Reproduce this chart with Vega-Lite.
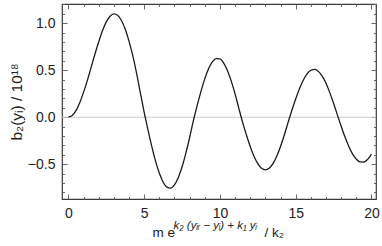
{
  "$schema": "https://vega.github.io/schema/vega-lite/v6.json",
  "width": 314,
  "height": 195,
  "autosize": {"type": "none"},
  "padding": {"left": 62, "top": 4, "right": 6, "bottom": 47},
  "background": "white",
  "config": {
    "view": {"stroke": "#3a3a3a", "strokeWidth": 1.2},
    "axis": {
      "domain": false,
      "grid": false,
      "labelFont": "Liberation Sans",
      "labelFontSize": 14,
      "labelColor": "#222",
      "titleFont": "Liberation Sans",
      "titleFontSize": 14,
      "titleFontWeight": "normal",
      "titleColor": "#222",
      "tickColor": "#666",
      "tickWidth": 1
    }
  },
  "datasets": {
    "zero": [{"y": 0}],
    "curve": [
      {"x": 0, "y": 0}, {"x": 0.25, "y": 0.018}, {"x": 0.5, "y": 0.07}, {"x": 0.75, "y": 0.155},
      {"x": 1.0, "y": 0.265}, {"x": 1.25, "y": 0.39}, {"x": 1.5, "y": 0.53}, {"x": 1.75, "y": 0.67},
      {"x": 2.0, "y": 0.8}, {"x": 2.25, "y": 0.92}, {"x": 2.5, "y": 1.015}, {"x": 2.75, "y": 1.075},
      {"x": 3.0, "y": 1.1}, {"x": 3.25, "y": 1.085}, {"x": 3.5, "y": 1.03}, {"x": 3.75, "y": 0.94},
      {"x": 4.0, "y": 0.81}, {"x": 4.25, "y": 0.655}, {"x": 4.5, "y": 0.47}, {"x": 4.75, "y": 0.26},
      {"x": 5.0, "y": 0.055}, {"x": 5.25, "y": -0.131}, {"x": 5.5, "y": -0.307}, {"x": 5.75, "y": -0.464},
      {"x": 6.0, "y": -0.594}, {"x": 6.25, "y": -0.689}, {"x": 6.5, "y": -0.743}, {"x": 6.75, "y": -0.754},
      {"x": 7.0, "y": -0.72}, {"x": 7.25, "y": -0.644}, {"x": 7.5, "y": -0.53}, {"x": 7.75, "y": -0.384},
      {"x": 8.0, "y": -0.218}, {"x": 8.25, "y": -0.037}, {"x": 8.5, "y": 0.126}, {"x": 8.75, "y": 0.276},
      {"x": 9.0, "y": 0.408}, {"x": 9.25, "y": 0.515}, {"x": 9.5, "y": 0.588}, {"x": 9.75, "y": 0.624},
      {"x": 10.0, "y": 0.62}, {"x": 10.25, "y": 0.576}, {"x": 10.5, "y": 0.496}, {"x": 10.75, "y": 0.384},
      {"x": 11.0, "y": 0.248}, {"x": 11.25, "y": 0.095}, {"x": 11.5, "y": -0.055}, {"x": 11.75, "y": -0.189},
      {"x": 12.0, "y": -0.311}, {"x": 12.25, "y": -0.415}, {"x": 12.5, "y": -0.494}, {"x": 12.75, "y": -0.543},
      {"x": 13.0, "y": -0.56}, {"x": 13.25, "y": -0.543}, {"x": 13.5, "y": -0.494}, {"x": 13.75, "y": -0.415},
      {"x": 14.0, "y": -0.311}, {"x": 14.25, "y": -0.189}, {"x": 14.5, "y": -0.055}, {"x": 14.75, "y": 0.075},
      {"x": 15.0, "y": 0.195}, {"x": 15.25, "y": 0.304}, {"x": 15.5, "y": 0.394}, {"x": 15.75, "y": 0.461},
      {"x": 16.0, "y": 0.5}, {"x": 16.25, "y": 0.509}, {"x": 16.5, "y": 0.488}, {"x": 16.75, "y": 0.437},
      {"x": 17.0, "y": 0.361}, {"x": 17.25, "y": 0.262}, {"x": 17.5, "y": 0.149}, {"x": 17.75, "y": 0.025},
      {"x": 18.0, "y": -0.095}, {"x": 18.25, "y": -0.208}, {"x": 18.5, "y": -0.308}, {"x": 18.75, "y": -0.389},
      {"x": 19.0, "y": -0.446}, {"x": 19.25, "y": -0.476}, {"x": 19.5, "y": -0.477}, {"x": 19.75, "y": -0.448},
      {"x": 20.0, "y": -0.392}
    ]
  },
  "resolve": {"axis": {"x": "independent", "y": "independent"}},
  "layer": [
    {
      "data": {"name": "zero"},
      "mark": {"type": "rule", "color": "#c8c8c8", "strokeWidth": 1},
      "encoding": {
        "y": {"field": "y", "type": "quantitative", "axis": null,
              "scale": {"domain": [-0.87, 1.205], "nice": false, "zero": false}}
      }
    },
    {
      "data": {"name": "curve"},
      "mark": {"type": "line", "color": "#1a1a1a", "strokeWidth": 1.3, "interpolate": "monotone"},
      "encoding": {
        "x": {"field": "x", "type": "quantitative",
              "scale": {"domain": [-0.42, 20.3], "nice": false, "zero": false},
              "axis": {"orient": "bottom",
                       "title": "m e",
                       "titleFontSize": 13.5,
                       "titleX": 90, "titleY": 37, "titleAlign": "left", "titleBaseline": "alphabetic",
                       "values": [0,1,2,3,4,5,6,7,8,9,10,11,12,13,14,15,16,17,18,19,20],
                       "labelExpr": "datum.value % 5 === 0 ? datum.label : ''",
                       "tickSize": {"condition": {"test": "datum.value % 5 === 0", "value": -5}, "value": -2.5},
                       "labelPadding": 12}},
        "y": {"field": "y", "type": "quantitative",
              "scale": {"domain": [-0.87, 1.205], "nice": false, "zero": false},
              "axis": {"orient": "left",
                       "title": "b₂(yᵢ) / 10¹⁸",
                       "titleFontSize": 15.5,
                       "titlePadding": 3,
                       "format": ".1f",
                       "values": [-0.8,-0.7,-0.6,-0.5,-0.4,-0.3,-0.2,-0.1,0,0.1,0.2,0.3,0.4,0.5,0.6,0.7,0.8,0.9,1.0,1.1,1.2],
                       "labelExpr": "abs(datum.value*2 - round(datum.value*2)) < 0.001 ? datum.label : ''",
                       "tickSize": {"condition": {"test": "abs(datum.value*2 - round(datum.value*2)) < 0.001", "value": -5}, "value": -2.5},
                       "labelPadding": 12}}
      }
    },
    {
      "data": {"name": "curve"},
      "mark": {"type": "line", "strokeOpacity": 0},
      "encoding": {
        "x": {"field": "x", "type": "quantitative",
              "scale": {"domain": [-0.42, 20.3], "nice": false, "zero": false},
              "axis": {"orient": "top", "labels": false,
                       "title": "k₂ (yᵢᵣ − yᵢ) + k₁ yᵢ",
                       "titleFontSize": 11.5,
                       "titleFontStyle": "italic",
                       "titleX": 111, "titleY": 224, "titleAlign": "left", "titleBaseline": "alphabetic",
                       "values": [0,1,2,3,4,5,6,7,8,9,10,11,12,13,14,15,16,17,18,19,20],
                       "tickSize": {"condition": {"test": "datum.value % 5 === 0", "value": -5}, "value": -2.5}}},
        "y": {"field": "y", "type": "quantitative",
              "scale": {"domain": [-0.87, 1.205], "nice": false, "zero": false},
              "axis": {"orient": "right", "title": null, "labels": false,
                       "values": [-0.8,-0.7,-0.6,-0.5,-0.4,-0.3,-0.2,-0.1,0,0.1,0.2,0.3,0.4,0.5,0.6,0.7,0.8,0.9,1.0,1.1,1.2],
                       "tickSize": {"condition": {"test": "abs(datum.value*2 - round(datum.value*2)) < 0.001", "value": -5}, "value": -2.5}}}
      }
    },
    {
      "data": {"name": "curve"},
      "mark": {"type": "line", "strokeOpacity": 0},
      "encoding": {
        "x": {"field": "x", "type": "quantitative",
              "scale": {"domain": [-0.42, 20.3], "nice": false, "zero": false},
              "axis": {"orient": "bottom", "labels": false, "ticks": false,
                       "title": "/ k₂",
                       "titleFontSize": 13.5,
                       "titleX": 202, "titleY": 37, "titleAlign": "left", "titleBaseline": "alphabetic"}}
      }
    }
  ]
}
